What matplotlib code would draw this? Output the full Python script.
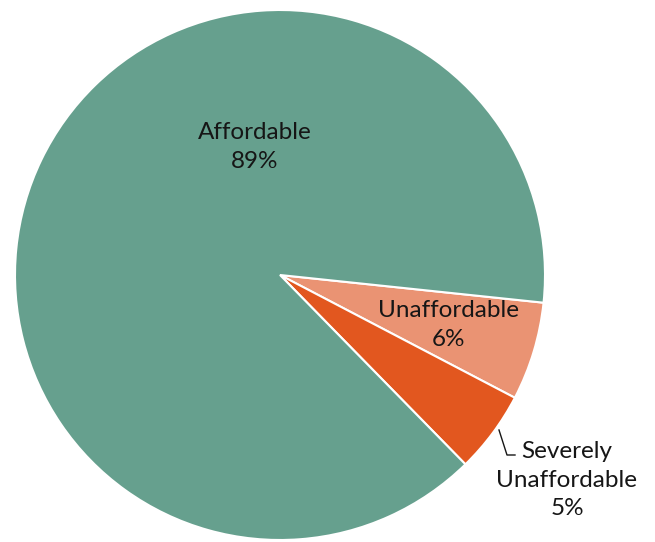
import matplotlib.pyplot as plt

plt.rcParams['font.family'] = ['Lato', 'DejaVu Sans']

categories = ['Unaffordable', 'Severely\nUnaffordable', 'Affordable']
shares = [6, 5, 89]
colors = ['#ea9373', '#e2571f', '#66a08e']

fig = plt.figure(figsize=(6.55, 5.42), dpi=100)
ax = fig.add_axes([0, 0, 1, 1])
ax.axis('off')

wedges, _ = ax.pie(shares, colors=colors, startangle=-6, counterclock=False,
                   radius=1, center=(0, 0),
                   wedgeprops=dict(edgecolor='white', linewidth=1.5))

# 1 unit = 265 px, pie centre at (280, 275) px from top-left
ax.set_xlim(-280 / 265, (655 - 280) / 265)
ax.set_ylim(-267 / 265, 275 / 265)
ax.set_aspect('equal')

txt = dict(ha='center', va='center', fontsize=17.5, color='#161616', linespacing=1.45)
ax.text(-0.094, 0.483, f'{categories[2]}\n{shares[2]}%', **txt)
ax.text(0.634, -0.189, f'{categories[0]}\n{shares[0]}%', **txt)
ax.text(1.083, -0.774, f'{categories[1]}\n{shares[1]}%', **txt)

# leader line for the small slice
px = lambda x, y: ((x - 280) / 265, (275 - y) / 265)
pts = [px(499, 430), px(507, 455), px(515, 455)]
ax.plot([p[0] for p in pts], [p[1] for p in pts], color='#161616', lw=1)

fig.savefig('out.png', dpi=100)
